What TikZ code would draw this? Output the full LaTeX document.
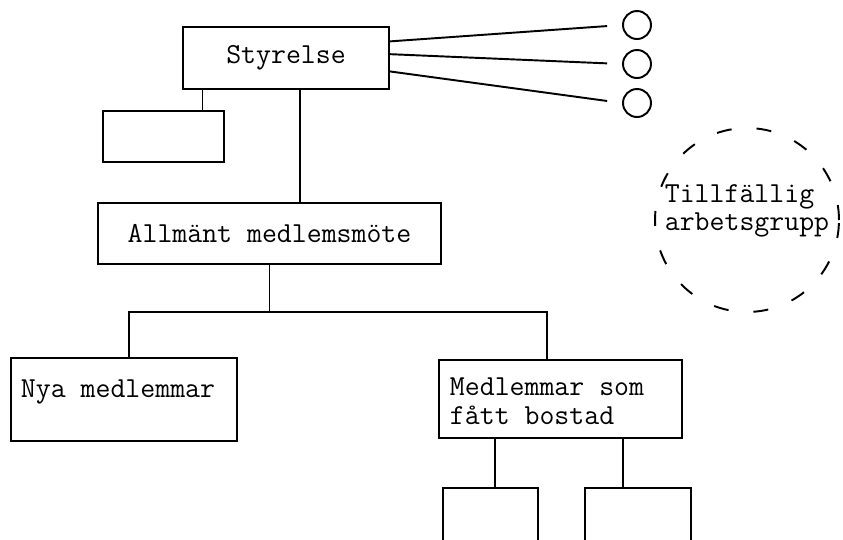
\documentclass[tikz,border=0pt]{standalone}
\usepackage{fontspec}
\usetikzlibrary{positioning,calc}

\begin{document}
\begin{tikzpicture}[x=0.02cm,y=-0.02cm,line width=1.1pt,
  font=\ttfamily\fontsize{16.5pt}{16pt}\selectfont,
  box/.style={draw,rectangle,inner sep=0pt},
  tbox/.style={draw,rectangle,anchor=north west,align=flush left,inner ysep=0pt},
  ring/.style={draw,circle,inner sep=0pt,minimum size=0.56cm}]
\useasboundingbox (0,0) rectangle (843,539);
% board and meeting
\node[box,minimum width=4.12cm,minimum height=1.24cm] (sty) at (286,58) {Styrelse};
\node[box,minimum width=2.42cm,minimum height=1.02cm] (aux) at (163.5,136.5) {};
\node[box,minimum width=6.86cm,minimum height=1.22cm] (mote) at (269.5,233.5) {Allmänt medlemsmöte};
% member groups
\node[tbox,inner xsep=0.2cm,text width=4.12cm,text height=0.8cm,text depth=0.86cm] (nya) at (10,357) {Nya medlemmar};
\node[tbox,inner xsep=0.22cm,text width=4.42cm,text height=0.72cm,text depth=0.84cm] (bost) at (438,359) {Medlemmar som\\fått bostad};
\node[box,anchor=north west,minimum width=1.9cm,minimum height=1.2cm] (sub1) at (442,487) {};
\node[box,anchor=north west,minimum width=2.12cm,minimum height=1.2cm] (sub2) at (584,487) {};
% small circles and temporary group
\node[ring] (c1) at (637,25) {};
\node[ring] (c2) at (637,64) {};
\node[ring] (c3) at (637,103) {};
\node[draw,circle,dash pattern=on 0.3cm off 0.5cm,minimum size=3.68cm] (grp) at (747,220) {};
\node[align=flush left,inner sep=0pt] (grptxt) at (747,211) {Tillfällig\\arbetsgrupp};
% tree lines
\draw ([xshift=0.78cm]aux.north) -- ([xshift=0.78cm]aux.north |- sty.south);
\draw ([xshift=0.28cm]sty.south) -- ([xshift=0.28cm]sty.south |- mote.north);
\coordinate (split) at (270,312);
\draw (mote.south) -- (mote.south |- split);
\draw ([xshift=0.1cm]nya.north) |- (split) -| ([xshift=-0.27cm]bost.north);
\draw ([xshift=0.09cm]sub1.north) -- ([xshift=0.09cm]sub1.north |- bost.south);
\draw ([xshift=-0.3cm]sub2.north) -- ([xshift=-0.3cm]sub2.north |- bost.south);
\foreach \k/\f in {1/0.24,2/0.44,3/0.71}
  \draw[shorten >=0.3cm] ($(sty.north east)!\f!(sty.south east)$) -- (c\k.west);
\end{tikzpicture}
\end{document}
